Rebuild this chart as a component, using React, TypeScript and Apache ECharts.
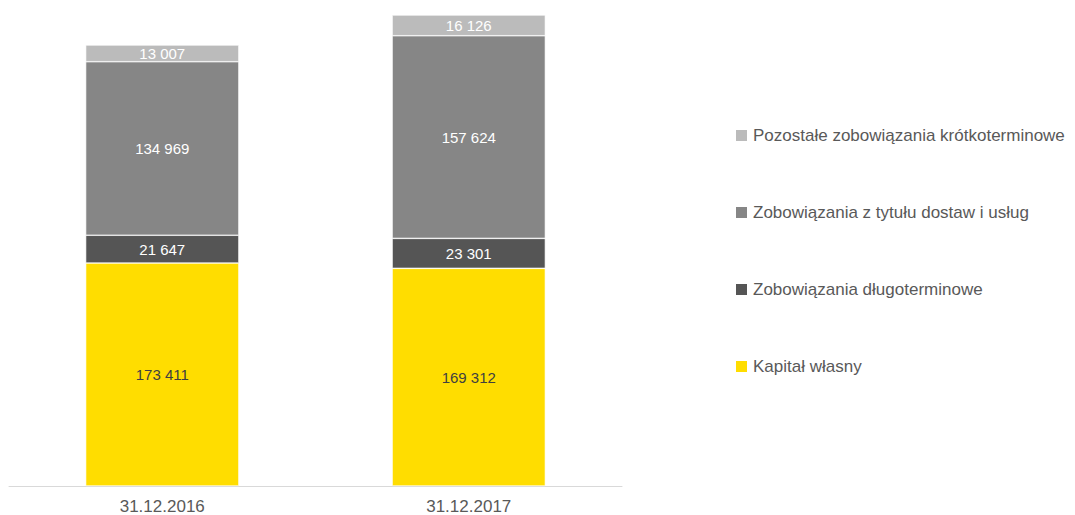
import React, { useEffect, useRef } from "react";
import * as echarts from "echarts";

const categories = ["31.12.2016", "31.12.2017"];
const kapital = [173411, 169312];
const dlugoterminowe = [21647, 23301];
const dostawy = [134969, 157624];
const pozostale = [13007, 16126];

const seriesNames = [
  "Kapitał własny",
  "Zobowiązania długoterminowe",
  "Zobowiązania z tytułu dostaw i usług",
  "Pozostałe zobowiązania krótkoterminowe",
];

const fmt = (v: number) => {
  const s = String(Math.round(v));
  return s.replace(/\B(?=(\d{3})+(?!\d))/g, " ");
};

export default function App() {
  const ref = useRef<HTMLDivElement>(null);
  useEffect(() => {
    if (!ref.current) return;
    const chart = echarts.init(ref.current, undefined, { renderer: "svg" });
    const totals = categories.map(
      (_, i) => kapital[i] + dlugoterminowe[i] + dostawy[i] + pozostale[i]
    );
    const maxTotal = Math.max(...totals);
    const font = "'Liberation Sans', Arial, sans-serif";
    const mk = (name: string, data: number[], color: string, labelColor: string) => ({
      name,
      type: "bar",
      stack: "total",
      barWidth: "50%",
      data,
      itemStyle: { color, borderColor: "#ffffff", borderWidth: 0.6 },
      label: {
        show: true,
        position: "inside",
        color: labelColor,
        fontSize: 15,
        fontFamily: font,
        formatter: (p: any) => fmt(p.value),
      },
    });
    chart.setOption({
      animation: false,
      grid: { left: 9, right: 453, top: 15, bottom: 28, containLabel: false },
      legend: {
        orient: "vertical",
        left: 729,
        top: 122,
        itemWidth: 13,
        itemHeight: 13,
        itemGap: 60,
        icon: "rect",
        data: [seriesNames[3], seriesNames[2], seriesNames[1], seriesNames[0]],
        textStyle: { color: "#595959", fontSize: 17, fontFamily: font },
      },
      xAxis: {
        type: "category",
        data: categories,
        axisLine: { show: true, lineStyle: { color: "#d9d9d9", width: 1 } },
        axisTick: { show: false },
        axisLabel: { color: "#595959", fontSize: 17, fontFamily: font, margin: 12 },
      },
      yAxis: {
        type: "value",
        min: 0,
        max: maxTotal,
        show: false,
        splitLine: { show: false },
      },
      series: [
        mk(seriesNames[0], kapital, "#ffdd00", "#404040"),
        mk(seriesNames[1], dlugoterminowe, "#555555", "#ffffff"),
        mk(seriesNames[2], dostawy, "#868686", "#ffffff"),
        mk(seriesNames[3], pozostale, "#bbbbbb", "#ffffff"),
      ],
    });
    return () => chart.dispose();
  }, []);
  return (
    <div
      ref={ref}
      style={{ position: "fixed", left: 0, top: 0, width: 1075, height: 515, background: "#fff" }}
    />
  );
}
